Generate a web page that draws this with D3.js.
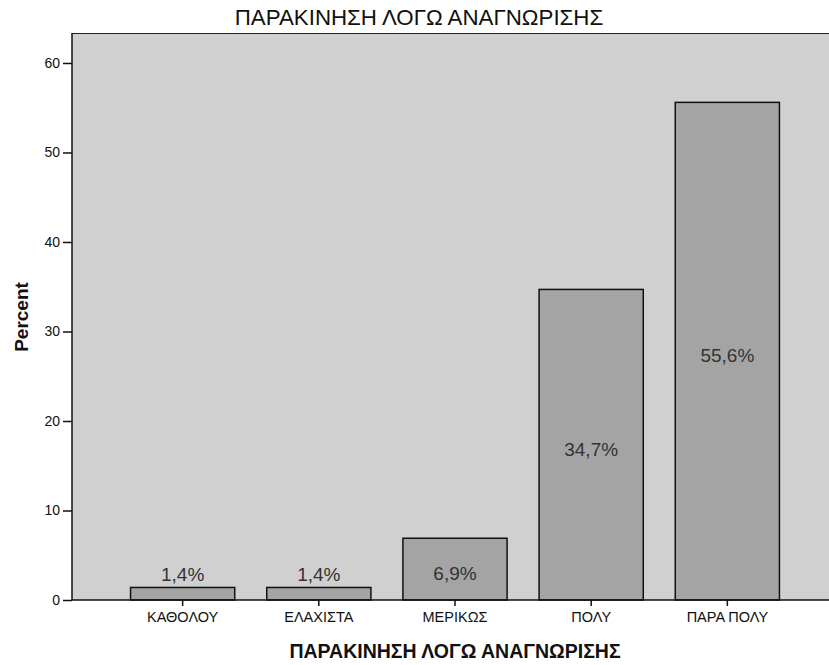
<!DOCTYPE html>
<html>
<head>
  <meta charset="UTF-8">
  <script src="https://d3js.org/d3.v7.min.js"></script>
  <style>
    body { margin: 0; background: #fff; }
    text { font-family: "Liberation Sans", Arial, sans-serif; }
  </style>
</head>
<body>
  <svg width="829" height="665"></svg>
  <script>
    // chart data
    const categories = ['ΚΑΘΟΛΟΥ', 'ΕΛΑΧΙΣΤΑ', 'ΜΕΡΙΚΩΣ', 'ΠΟΛΥ', 'ΠΑΡΑ ΠΟΛΥ'];
    const percents = [1.4, 1.4, 6.9, 34.7, 55.6];
    const yTicks = [0, 10, 20, 30, 40, 50, 60];
    const chartTitle = 'ΠΑΡΑΚΙΝΗΣΗ ΛΟΓΩ ΑΝΑΓΝΩΡΙΣΗΣ';
    const xTitle = 'ΠΑΡΑΚΙΝΗΣΗ ΛΟΓΩ ΑΝΑΓΝΩΡΙΣΗΣ';
    const yTitle = 'Percent';

    const data = categories.map((c, i) => ({ cat: c, pct: percents[i] }));

    // plot area
    const plotLeft = 72, plotRight = 838, plotTop = 33, plotBottom = 600;

    const svg = d3.select('svg');

    const x = d3.scaleBand()
      .domain(categories)
      .range([plotLeft, plotRight])
      .paddingInner(0.235)
      .paddingOuter(0.43);

    const y = d3.scaleLinear()
      .domain([0, 63.35])
      .range([plotBottom, plotTop]);

    // background of plot
    svg.append('rect')
      .attr('x', plotLeft)
      .attr('y', plotTop)
      .attr('width', plotRight - plotLeft)
      .attr('height', plotBottom - plotTop)
      .attr('fill', '#d0d0d0');

    svg.append('line')
      .attr('x1', plotLeft).attr('x2', plotRight)
      .attr('y1', plotTop + 0.5).attr('y2', plotTop + 0.5)
      .attr('stroke', '#222');

    // bars
    svg.selectAll('rect.bar')
      .data(data)
      .enter()
      .append('rect')
        .attr('class', 'bar')
        .attr('x', d => x(d.cat))
        .attr('y', d => y(d.pct))
        .attr('width', x.bandwidth())
        .attr('height', d => y(0) - y(d.pct))
        .attr('fill', '#a4a4a4')
        .attr('stroke', '#111')
        .attr('stroke-width', 1.5);

    // value labels
    const fmt = v => d3.format('.1f')(v).replace('.', ',') + '%';
    svg.selectAll('text.val')
      .data(data)
      .enter()
      .append('text')
        .attr('class', 'val')
        .attr('x', d => x(d.cat) + x.bandwidth() / 2)
        .attr('y', d => {
          const h = y(0) - y(d.pct);
          return h > 30 ? (y(d.pct) + y(0)) / 2 + 11 : y(d.pct) - 6;
        })
        .attr('text-anchor', 'middle')
        .attr('font-size', '19px')
        .attr('fill', '#333')
        .text(d => fmt(d.pct));

    // y axis
    const yAxis = svg.append('g')
      .attr('transform', `translate(${plotLeft}, 0)`)
      .call(d3.axisLeft(y).tickValues(yTicks).tickSize(9).tickPadding(3));
    yAxis.select('.domain').attr('stroke', '#111').attr('stroke-width', 1.5)
      .attr('d', `M0,${plotTop}V${plotBottom}`);
    yAxis.selectAll('.tick line').attr('stroke', '#111').attr('stroke-width', 1.5);
    yAxis.selectAll('.tick text')
      .attr('font-size', '14px')
      .attr('font-family', '"Liberation Sans", Arial, sans-serif')
      .attr('fill', '#111');

    // x axis
    const xAxis = svg.append('g')
      .attr('transform', `translate(0, ${plotBottom})`)
      .call(d3.axisBottom(x).tickSize(6).tickPadding(6));
    xAxis.select('.domain').attr('stroke', '#111').attr('stroke-width', 1.5)
      .attr('d', `M${plotLeft},0H${plotRight}`);
    xAxis.selectAll('.tick line').attr('stroke', '#111').attr('stroke-width', 1.5);
    xAxis.selectAll('.tick text')
      .attr('font-size', '14.5px')
      .attr('font-family', '"Liberation Sans", Arial, sans-serif')
      .attr('fill', '#111');

    // titles
    svg.append('text')
      .attr('x', 419)
      .attr('y', 25)
      .attr('text-anchor', 'middle')
      .attr('font-size', '22.3px')
      .attr('fill', '#111')
      .text(chartTitle);

    svg.append('text')
      .attr('x', 455)
      .attr('y', 658)
      .attr('text-anchor', 'middle')
      .attr('font-size', '19.5px')
      .attr('font-weight', 'bold')
      .attr('fill', '#111')
      .text(xTitle);

    svg.append('text')
      .attr('transform', 'rotate(-90)')
      .attr('x', -317)
      .attr('y', 28)
      .attr('text-anchor', 'middle')
      .attr('font-size', '19px')
      .attr('font-weight', 'bold')
      .attr('fill', '#111')
      .text(yTitle);
  </script>
</body>
</html>
